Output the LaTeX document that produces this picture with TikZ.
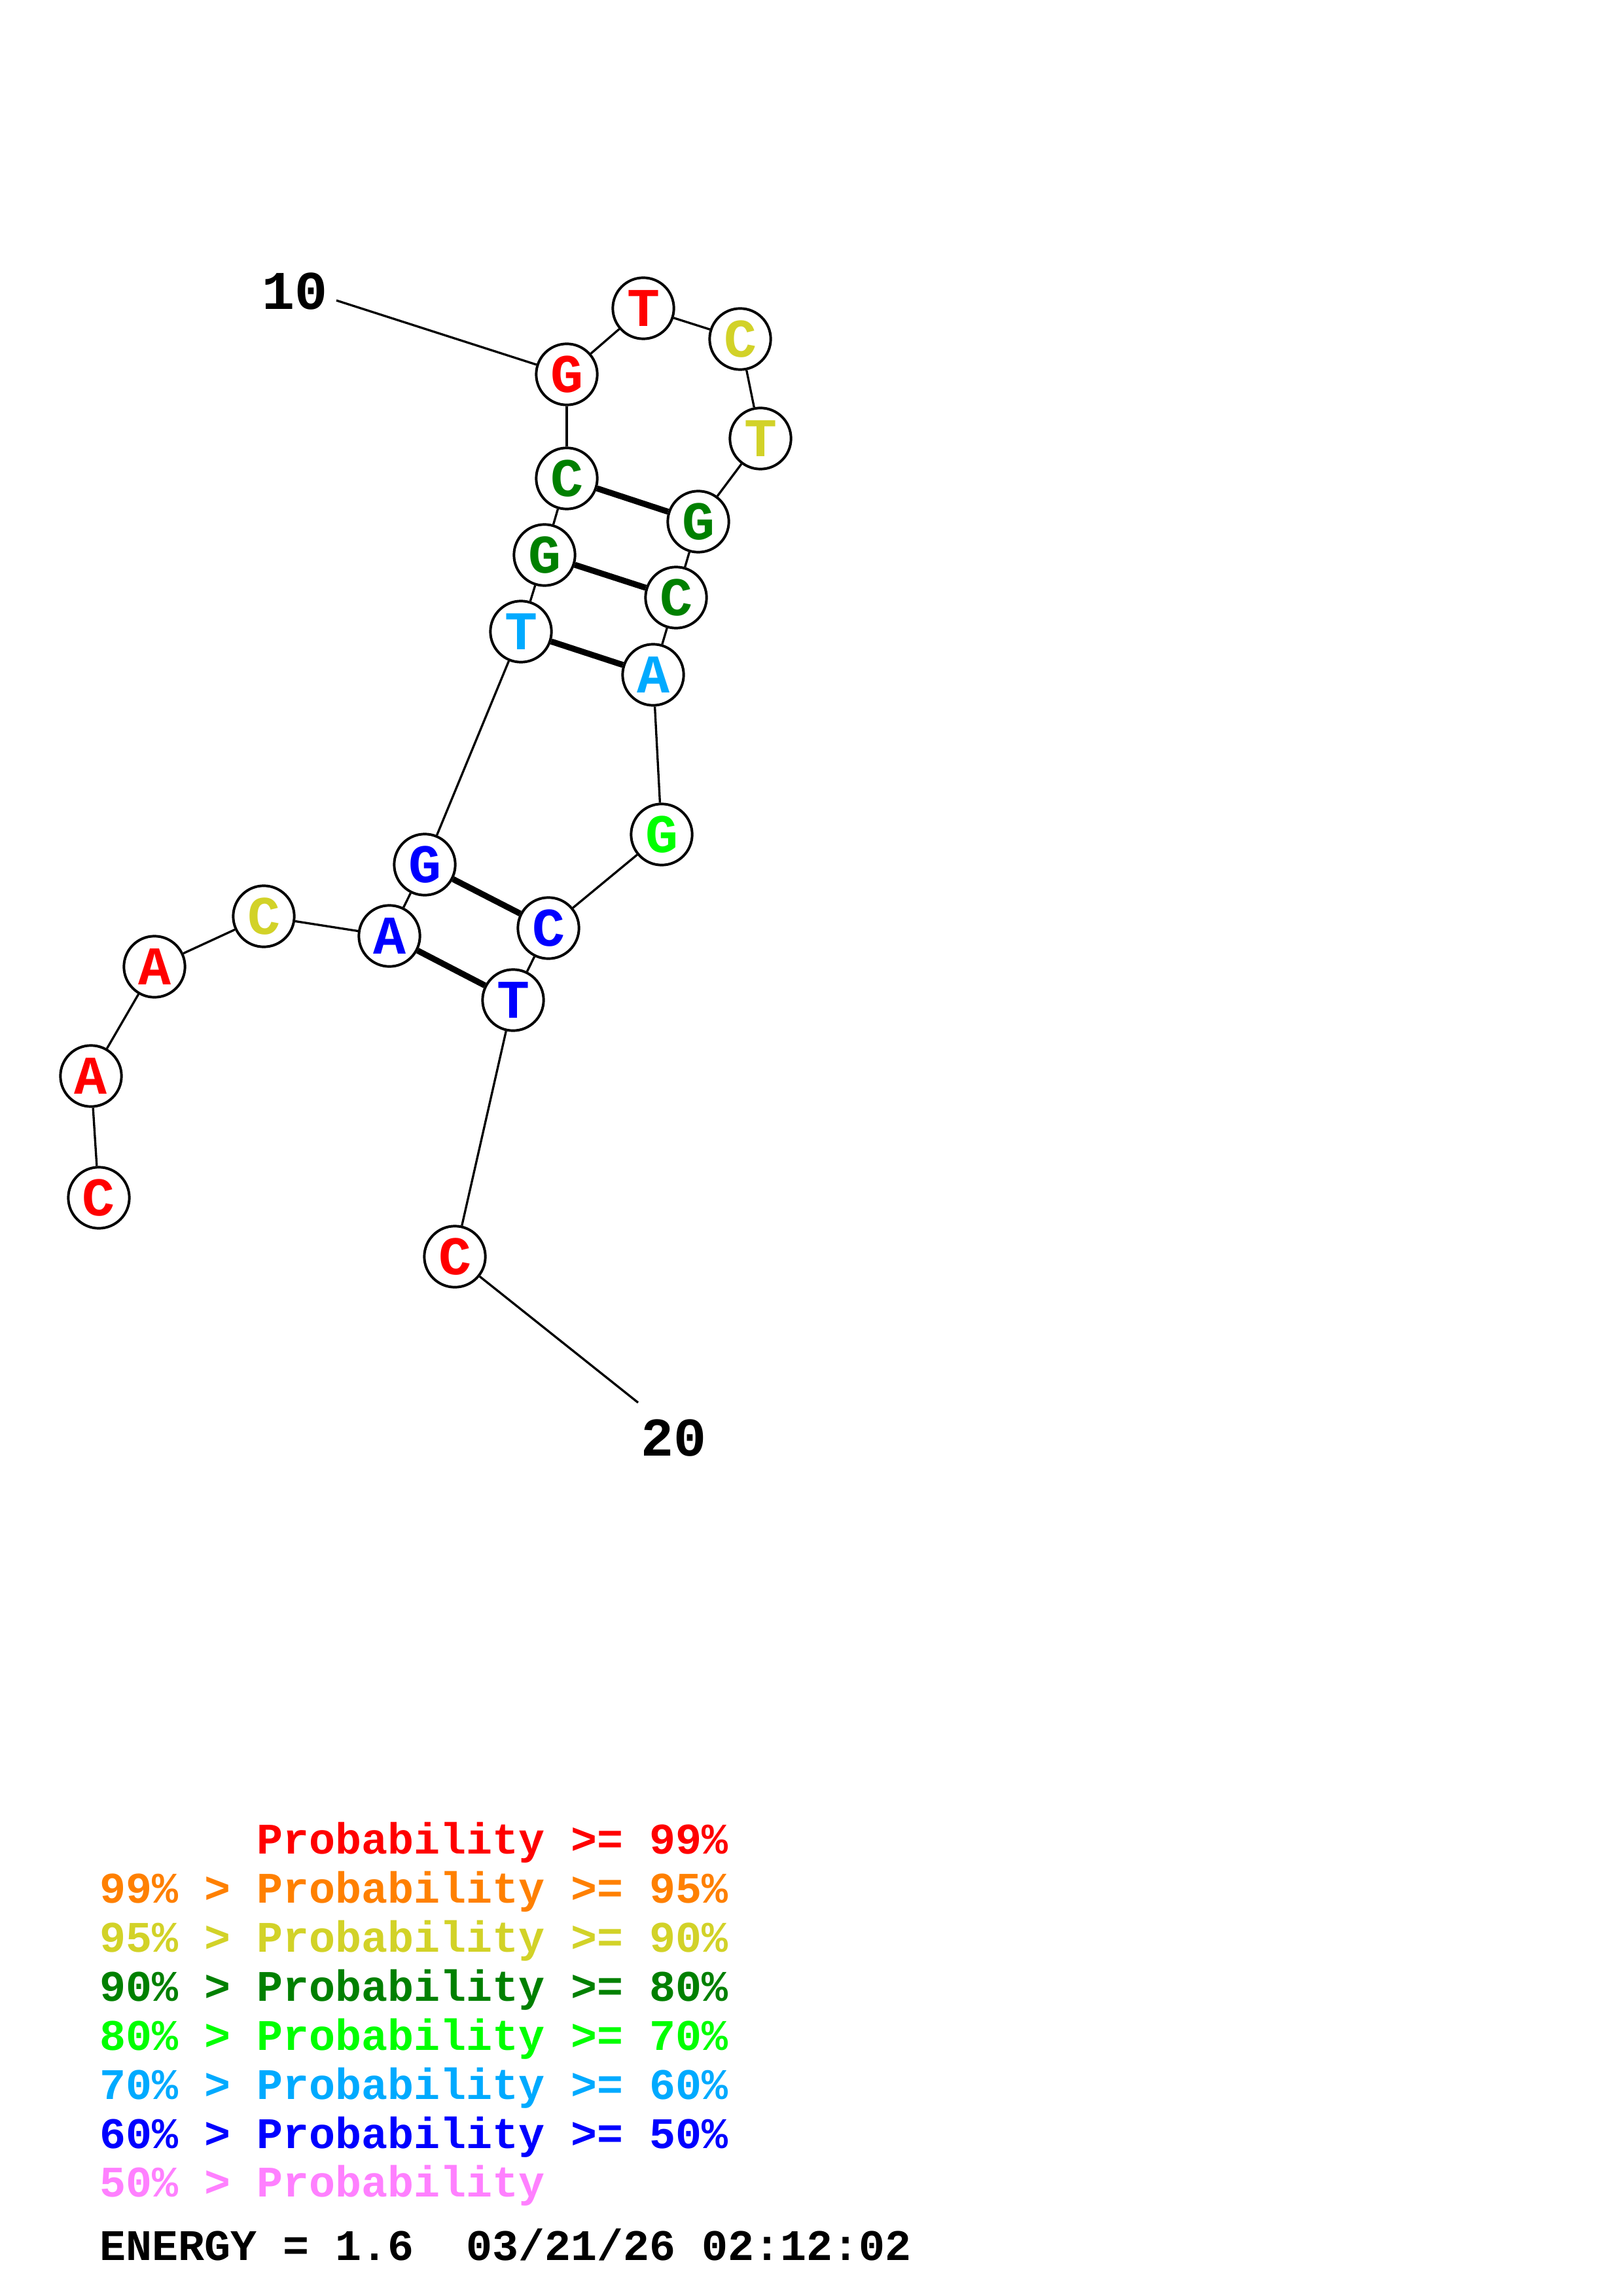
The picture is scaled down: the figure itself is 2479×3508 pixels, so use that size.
\documentclass[tikz,border=0pt]{standalone}
\usepackage{fontspec}
\newfontfamily\monofam{Liberation Mono}
\definecolor{cred}{RGB}{255,0,0}
\definecolor{corange}{RGB}{255,128,0}
\definecolor{cyellow}{RGB}{210,210,40}
\definecolor{cdgreen}{RGB}{0,128,0}
\definecolor{clime}{RGB}{0,255,0}
\definecolor{ccyan}{RGB}{0,170,255}
\definecolor{cblue}{RGB}{0,0,255}
\definecolor{cpink}{RGB}{255,128,255}
\tikzset{
  base/.style={circle,draw=black,line width=0.95pt,fill=white,minimum size=22.4pt,inner sep=0pt,
    font=\monofam\bfseries\fontsize{20}{24}\selectfont},
  bb/.style={line width=0.8pt,black},
  pairline/.style={line width=2.2pt,black},
  numlab/.style={inner sep=0pt,font=\monofam\bfseries\fontsize{20}{24}\selectfont},
  legend/.style={anchor=base west,inner sep=0pt,font=\monofam\bfseries\fontsize{16}{19}\selectfont}
}
\begin{document}
\begin{tikzpicture}[x=0.24pt,y=-0.24pt]
\useasboundingbox[fill=white] (0,0) rectangle (2479,3508);
% nucleotides
\node[base,text=cred]    (n1)  at (151,1830) {C};
\node[base,text=cred]    (n2)  at (139,1644) {A};
\node[base,text=cred]    (n3)  at (236,1477) {A};
\node[base,text=cyellow] (n4)  at (403,1400) {C};
\node[base,text=cblue]   (n5)  at (595,1430) {A};
\node[base,text=cblue]   (n6)  at (649,1321) {G};
\node[base,text=ccyan]   (n7)  at (796,965)  {T};
\node[base,text=cdgreen] (n8)  at (832,848)  {G};
\node[base,text=cdgreen] (n9)  at (866,731)  {C};
\node[base,text=cred]    (n10) at (866,572)  {G};
\node[base,text=cred]    (n11) at (983,471)  {T};
\node[base,text=cyellow] (n12) at (1131,518) {C};
\node[base,text=cyellow] (n13) at (1162,670) {T};
\node[base,text=cdgreen] (n14) at (1067,797) {G};
\node[base,text=cdgreen] (n15) at (1033,913) {C};
\node[base,text=ccyan]   (n16) at (998,1031) {A};
\node[base,text=clime]   (n17) at (1011,1275) {G};
\node[base,text=cblue]   (n18) at (838,1418) {C};
\node[base,text=cblue]   (n19) at (784,1528) {T};
\node[base,text=cred]    (n20) at (695,1920) {C};
% labels
\node[numlab] (l10) at (451,445) {10};
\node[numlab] (l20) at (1029,2197) {20};
\coordinate (e10) at (514,459);
\coordinate (e20) at (975,2143);
% backbone
\draw[bb] (n1)--(n2);
\draw[bb] (n2)--(n3);
\draw[bb] (n3)--(n4);
\draw[bb] (n4)--(n5);
\draw[bb] (n5)--(n6);
\draw[bb] (n6)--(n7);
\draw[bb] (n7)--(n8);
\draw[bb] (n8)--(n9);
\draw[bb] (n9)--(n10);
\draw[bb] (n10)--(n11);
\draw[bb] (n11)--(n12);
\draw[bb] (n12)--(n13);
\draw[bb] (n13)--(n14);
\draw[bb] (n14)--(n15);
\draw[bb] (n15)--(n16);
\draw[bb] (n16)--(n17);
\draw[bb] (n17)--(n18);
\draw[bb] (n18)--(n19);
\draw[bb] (n19)--(n20);
\draw[bb] (e10)--(n10);
\draw[bb] (n20)--(e20);
% pairs
\draw[pairline] (n5)--(n19);
\draw[pairline] (n6)--(n18);
\draw[pairline] (n7)--(n16);
\draw[pairline] (n8)--(n15);
\draw[pairline] (n9)--(n14);
% legend
\node[legend,text=cred]    (g1) at (392,2832) {Probability >= 99\%};
\node[legend,text=corange] (g2) at (152,2907) {99\% > Probability >= 95\%};
\node[legend,text=cyellow] (g3) at (152,2982) {95\% > Probability >= 90\%};
\node[legend,text=cdgreen] (g4) at (152,3057) {90\% > Probability >= 80\%};
\node[legend,text=clime]   (g5) at (152,3132) {80\% > Probability >= 70\%};
\node[legend,text=ccyan]   (g6) at (152,3207) {70\% > Probability >= 60\%};
\node[legend,text=cblue]   (g7) at (152,3282) {60\% > Probability >= 50\%};
\node[legend,text=cpink]   (g8) at (152,3356) {50\% > Probability};
\node[legend,text=black]   (g9) at (152,3453) {ENERGY = 1.6~~03/21/26 02:12:02};
\end{tikzpicture}
\end{document}
